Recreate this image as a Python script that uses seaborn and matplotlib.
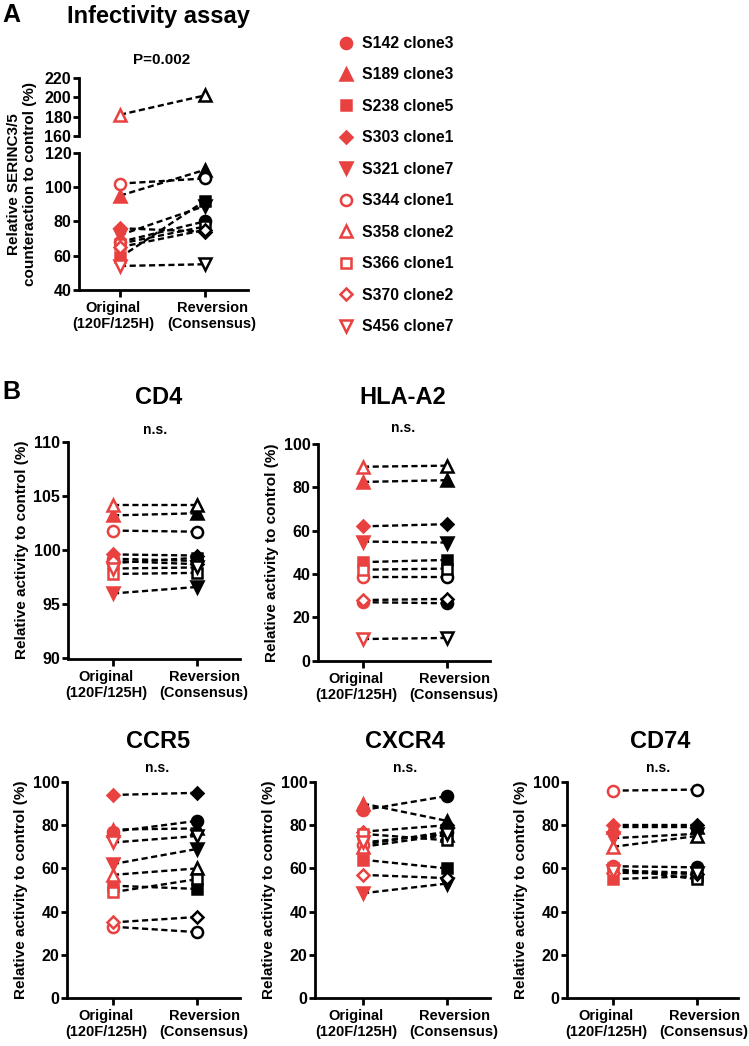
import numpy as np
import pandas as pd
import matplotlib
matplotlib.use("Agg")
import matplotlib.pyplot as plt
import matplotlib.transforms as mtransforms
from matplotlib.lines import Line2D
import seaborn as sns

# ---------------- data ----------------
samples = ["S142 clone3", "S189 clone3", "S238 clone5", "S303 clone1", "S321 clone7",
           "S344 clone1", "S358 clone2", "S366 clone1", "S370 clone2", "S456 clone7"]
conditions = ["Original\n(120F/125H)", "Reversion\n(Consensus)"]

infect_orig = [68, 95, 59, 76, 72, 102, 182, 67, 65, 54]
infect_rev = [80, 110, 92, 74, 89, 105, 202, 77, 75, 55]

cd4_orig = [99.2, 103.2, 98.8, 99.6, 96.0, 101.8, 104.2, 97.8, 99.0, 98.3]
cd4_rev = [99.0, 103.4, 99.3, 99.5, 96.6, 101.7, 104.2, 97.9, 98.7, 98.4]

hla_orig = [27, 82.5, 45.5, 62, 55, 38.5, 89.5, 42, 28, 10]
hla_rev = [26.5, 83.3, 46.5, 63, 54.5, 38.5, 90, 42.5, 28.5, 10.5]

ccr5_orig = [77, 78, 52, 94, 62, 33, 57, 49, 35, 72]
ccr5_rev = [82, 78.5, 50.5, 95, 69, 30.5, 60, 55, 37.5, 75]

cxcr4_orig = [87, 90, 64, 77, 48.5, 71, 70, 76, 57, 72]
cxcr4_rev = [93.5, 82, 60, 80, 53, 77, 75.5, 73, 55.5, 76]

cd74_orig = [61, 79, 55, 80, 74, 96, 70, 60, 58, 59]
cd74_rev = [60.5, 79, 56.5, 80, 76, 96.5, 75, 55, 57.5, 58]

# ---------------- style ----------------
RED = "#E8413F"
MARKERS = ["o", "^", "s", "D", "v", "o", "^", "s", "D", "v"]
FILLED = [True] * 5 + [False] * 5
MSIZE = {"o": 8, "^": 8.5, "v": 8.5, "s": 7.5, "D": 6.2}

sns.set_theme(style="ticks")
plt.rcParams["font.family"] = ["Liberation Sans", "DejaVu Sans"]
plt.rcParams.update({
    "font.weight": "bold",
    "axes.labelweight": "bold",
    "axes.linewidth": 2.0,
    "xtick.major.width": 2.0,
    "ytick.major.width": 2.0,
    "xtick.major.size": 5,
    "ytick.major.size": 4,
    "xtick.major.pad": 3,
    "ytick.major.pad": 1.5,
    "xtick.color": "black",
    "ytick.color": "black",
    "text.color": "black",
    "axes.labelcolor": "black",
    "axes.edgecolor": "black",
})

W, H = 749, 1046
fig = plt.figure(figsize=(W / 100, H / 100), dpi=100)


def fx(p):
    return p / W


def fy(p):
    return 1 - p / H


def make_ax(left, right, top, bottom, t0, t1):
    ax = fig.add_axes([fx(left), fy(bottom), (right - left) / W, (bottom - top) / H])
    u = t1 - t0
    ax.set_xlim(-(t0 - left) / u, 1 + (right - t1) / u)
    sns.despine(ax=ax)
    return ax


def draw_pairs(ax, orig, rev):
    df = pd.DataFrame({
        "sample": samples * 2,
        "x": [0] * len(samples) + [1] * len(samples),
        "value": list(orig) + list(rev),
    })
    sns.lineplot(data=df, x="x", y="value", units="sample", estimator=None,
                 color="black", lw=1.7, linestyle=(0, (2.6, 1.5)), sort=False,
                 legend=False, ax=ax, zorder=2)
    for i in range(len(samples)):
        m = MARKERS[i]
        for xv, val, col in ((0, orig[i], RED), (1, rev[i], "black")):
            ax.plot([xv], [val], marker=m, ms=MSIZE[m], ls="none",
                    mfc=col if FILLED[i] else "white", mec=col, mew=1.8, zorder=3)
    ax.set_xlabel("")
    ax.set_ylabel("")


def finish(ax, yticks, ylim, show_x=True):
    ax.set_ylim(*ylim)
    ax.set_yticks(yticks)
    ax.tick_params(axis="y", labelsize=11.5)
    if show_x:
        ax.set_xticks([0, 1])
        ax.set_xticklabels(conditions, fontsize=10.5, fontweight="bold")
        labs = ax.get_xticklabels()
        for lab, dx in zip(labs, (-7, 7)):
            off = mtransforms.ScaledTranslation(dx / 100, 0, fig.dpi_scale_trans)
            lab.set_transform(lab.get_transform() + off)
    for lab in ax.get_yticklabels():
        lab.set_fontweight("bold")


# ---------------- Panel A ----------------
axA_bot = make_ax(79, 248, 152.7, 290, 120, 205)
draw_pairs(axA_bot, infect_orig, infect_rev)
finish(axA_bot, [40, 60, 80, 100, 120], (40, 120))

axA_top = make_ax(79, 248, 78, 136, 120, 205)
draw_pairs(axA_top, infect_orig, infect_rev)
finish(axA_top, [160, 180, 200, 220], (160, 220), show_x=False)
axA_top.spines["bottom"].set_visible(False)
axA_top.set_xticks([])

fig.text(fx(2), fy(15), "A", fontsize=18, fontweight="bold", va="center", ha="left")
fig.text(fx(67), fy(17), "Infectivity assay", fontsize=17, fontweight="bold",
         va="center", ha="left")
fig.text(fx(162), fy(60), "P=0.002", fontsize=11, fontweight="bold",
         va="center", ha="center")
fig.text(fx(22), fy(184), "Relative SERINC3/5\ncounteraction to control (%)",
         rotation=90, fontsize=11, fontweight="bold", va="center", ha="center",
         linespacing=1.2)

# legend
handles = [Line2D([], [], marker=MARKERS[i], ms=MSIZE[MARKERS[i]], ls="none",
                  mfc=RED if FILLED[i] else "white", mec=RED, mew=1.8)
           for i in range(len(samples))]
fig.legend(handles, samples, loc="upper left", bbox_to_anchor=(fx(338), fy(36)),
           frameon=False, labelspacing=1.05, handlelength=1.0,
           handletextpad=0.55, borderpad=0, borderaxespad=0,
           prop={"weight": "bold", "size": 11.3})

fig.text(fx(2), fy(392), "B", fontsize=18, fontweight="bold", va="center", ha="left")

# ---------------- Panel B ----------------
ylab = "Relative activity to control (%)"

panels = [
    # name, orig, rev, left, right, t0, t1, top, bottom, yticks, ylim, title_xy, ns_xy
    ("CD4", cd4_orig, cd4_rev, 68, 240, 113, 197, 441.7, 658.5,
     [90, 95, 100, 105, 110], (90, 110), (159, 398), (155, 430)),
    ("HLA-A2", hla_orig, hla_rev, 318, 490, 363, 447, 444, 660.7,
     [0, 20, 40, 60, 80, 100], (0, 100), (403, 397), (403, 428)),
    ("CCR5", ccr5_orig, ccr5_rev, 67, 240, 113, 197, 782, 998,
     [0, 20, 40, 60, 80, 100], (0, 100), (158, 742), (157, 768)),
    ("CXCR4", cxcr4_orig, cxcr4_rev, 315, 490, 363, 447, 782, 998,
     [0, 20, 40, 60, 80, 100], (0, 100), (405, 742), (405, 768)),
    ("CD74", cd74_orig, cd74_rev, 567, 738, 613, 697, 782, 998,
     [0, 20, 40, 60, 80, 100], (0, 100), (660, 742), (658, 768)),
]

for (name, o, r, left, right, t0, t1, top, bottom, yt, yl, txy, nxy) in panels:
    ax = make_ax(left, right, top, bottom, t0, t1)
    draw_pairs(ax, o, r)
    finish(ax, yt, yl)
    ax.set_ylabel(ylab, fontsize=11, fontweight="bold", labelpad=3)
    fig.text(fx(txy[0]), fy(txy[1]), name, fontsize=17, fontweight="bold",
             va="center", ha="center")
    fig.text(fx(nxy[0]), fy(nxy[1]), "n.s.", fontsize=10, fontweight="bold",
             va="center", ha="center")

fig.savefig("out.png", dpi=100)
